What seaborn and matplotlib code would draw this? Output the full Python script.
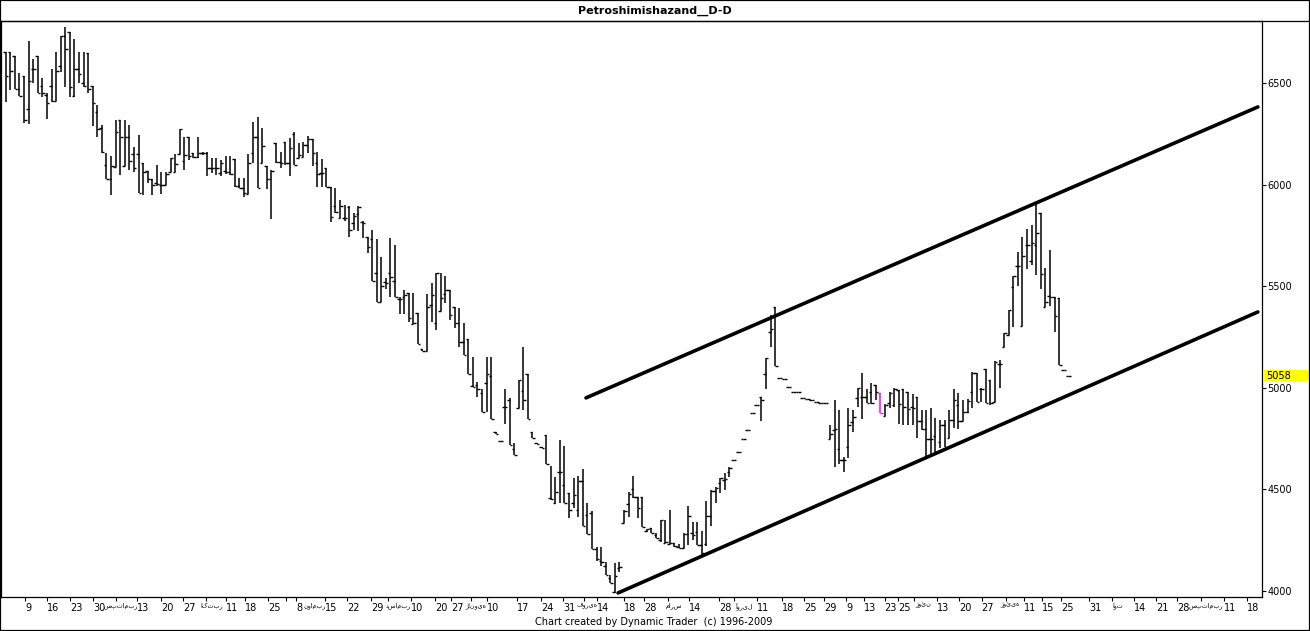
import numpy as np
import pandas as pd
import matplotlib
matplotlib.use("Agg")
import matplotlib.pyplot as plt
import matplotlib.transforms as mtransforms
from matplotlib.lines import Line2D
from matplotlib.patches import Rectangle
import seaborn as sns

# ---------------- data (daily OHLC) ----------------
opens = [
    6651, 6651, 6633, 6469, 6534, 6370, 6567, 6633, 6485, 6441,
    6485, 6411, 6584, 6731, 6749, 6436, 6567, 6502, 6646, 6485,
    6359, 6277, 6095, 6026, 6088, 6318, 6093, 6233, 6151, 6149,
    6105, 6067, 6028, 6006, 5998, 5998, 6061, 6064, 6150, 6116,
    6232, 6154, 6134, 6154, 6154, 6080, 6080, 6058, 6068, 6063,
    6124, 5993, 5981, 5954, 6154, 6236, 6104, 6091, 6026, 6203,
    6113, 6211, 6104, 6249, 6129, 6137, 6195, 6222, 6104, 6055,
    6080, 5986, 5894, 5834, 5834, 5891, 5812, 5853, 5817, 5744,
    5730, 5563, 5421, 5522, 5563, 5525, 5439, 5448, 5465, 5312,
    5366, 5191, 5183, 5407, 5317, 5379, 5461, 5481, 5399, 5320,
    5227, 5238, 5010, 5014, 4976, 5025, 5058, 4781, 4740, 4907,
    4940, 4697, 4899, 4986, 5068, 4781, 4730, 4710, 4768, 4455,
    4431, 4584, 4520, 4481, 4435, 4399, 4541, 4374, 4382, 4205,
    4149, 4123, 4062, 3995, 4112, 4336, 4428, 4504, 4464, 4464,
    4297, 4312, 4276, 4251, 4235, 4231, 4235, 4218, 4210, 4279,
    4287, 4292, 4226, 4231, 4369, 4490, 4530, 4546, 4587, 4645,
    4682, 4746, 4792, 4874, 4915, 4953, 5066, 5273, 5396, 5046,
    5041, 5002, 4981, 4977, 4948, 4945, 4940, 4932, 4927, 4923,
    4746, 4792, 4700, 4645, 4710, 4833, 4948, 4956, 4956, 4981,
    5014, 4976, 4861, 4923, 4915, 4989, 4994, 4978, 4907, 4956,
    4836, 4795, 4746, 4763, 4735, 4817, 4751, 4841, 4915, 4838,
    4882, 4981, 5074, 4992, 5091, 5038, 4932, 5115, 5202, 5260,
    5497, 5599, 5304, 5702, 5625, 5702, 5858, 5396, 5451, 5448,
    5440, 5087, 5058,
]
highs = [
    6651, 6651, 6633, 6548, 6534, 6707, 6616, 6633, 6523, 6449,
    6567, 6651, 6731, 6774, 6749, 6717, 6651, 6651, 6646, 6485,
    6392, 6293, 6154, 6141, 6318, 6318, 6318, 6293, 6187, 6244,
    6105, 6067, 6028, 6097, 6064, 6064, 6133, 6151, 6272, 6236,
    6232, 6154, 6232, 6162, 6162, 6129, 6129, 6121, 6140, 6140,
    6124, 6031, 6031, 6150, 6309, 6334, 6277, 6091, 6072, 6203,
    6162, 6211, 6227, 6260, 6203, 6211, 6239, 6222, 6162, 6124,
    6080, 5986, 5981, 5924, 5899, 5894, 5858, 5894, 5822, 5744,
    5776, 5730, 5642, 5539, 5735, 5703, 5445, 5481, 5465, 5465,
    5366, 5191, 5462, 5514, 5566, 5566, 5550, 5481, 5399, 5391,
    5317, 5238, 5153, 5030, 4992, 5153, 5153, 4781, 4740, 4992,
    4948, 4727, 5038, 5202, 5068, 4781, 4730, 4710, 4768, 4615,
    4563, 4743, 4713, 4481, 4554, 4566, 4599, 4435, 4394, 4218,
    4218, 4144, 4079, 4139, 4144, 4399, 4489, 4566, 4464, 4464,
    4303, 4312, 4284, 4349, 4349, 4399, 4235, 4231, 4284, 4420,
    4341, 4341, 4297, 4443, 4497, 4513, 4554, 4582, 4609, 4645,
    4682, 4746, 4792, 4874, 4915, 4953, 5145, 5358, 5399, 5046,
    5041, 5002, 4981, 4977, 4948, 4945, 4940, 4932, 4927, 4923,
    4817, 4940, 4891, 4661, 4899, 4891, 4997, 5071, 4992, 5022,
    5014, 4976, 4920, 4981, 4997, 4989, 4994, 4978, 4969, 4956,
    4891, 4891, 4899, 4850, 4841, 4841, 4891, 4992, 4976, 4940,
    4943, 5079, 5074, 4997, 5091, 5038, 5133, 5137, 5268, 5383,
    5550, 5670, 5743, 5779, 5801, 5916, 5858, 5588, 5678, 5448,
    5440, 5087, 5058,
]
lows = [
    6405, 6466, 6469, 6438, 6302, 6297, 6502, 6449, 6433, 6321,
    6408, 6411, 6553, 6482, 6433, 6433, 6502, 6482, 6452, 6288,
    6236, 6154, 6026, 5949, 6088, 6047, 6093, 6072, 6064, 5957,
    5949, 6006, 5949, 5993, 5954, 5998, 6061, 6064, 6150, 6072,
    6121, 6129, 6129, 6145, 6042, 6055, 6047, 6042, 6052, 6047,
    5986, 5981, 5940, 5954, 6104, 5981, 6104, 5976, 5829, 6104,
    6080, 6096, 6042, 6096, 6129, 6137, 6154, 6091, 5986, 5986,
    5986, 5817, 5858, 5834, 5822, 5740, 5776, 5773, 5735, 5665,
    5525, 5421, 5421, 5484, 5445, 5445, 5361, 5361, 5325, 5312,
    5214, 5183, 5183, 5322, 5284, 5379, 5416, 5334, 5293, 5202,
    5161, 5068, 5002, 4953, 4879, 4879, 4846, 4771, 4740, 4822,
    4719, 4669, 4899, 4888, 4846, 4755, 4725, 4705, 4623, 4448,
    4428, 4431, 4431, 4358, 4407, 4366, 4320, 4279, 4205, 4149,
    4123, 4079, 4038, 3989, 4095, 4336, 4366, 4456, 4358, 4313,
    4292, 4284, 4259, 4243, 4235, 4231, 4218, 4210, 4210, 4226,
    4251, 4226, 4177, 4221, 4317, 4431, 4480, 4497, 4563, 4645,
    4682, 4746, 4792, 4874, 4915, 4838, 4992, 5199, 5109, 5046,
    5041, 5002, 4981, 4977, 4948, 4945, 4940, 4932, 4927, 4923,
    4746, 4608, 4625, 4587, 4653, 4784, 4907, 4845, 4923, 4920,
    4940, 4877, 4861, 4899, 4907, 4820, 4817, 4817, 4817, 4751,
    4792, 4653, 4661, 4686, 4705, 4710, 4751, 4800, 4795, 4838,
    4877, 4899, 4932, 4932, 4923, 4915, 4932, 5000, 5202, 5260,
    5301, 5501, 5304, 5583, 5604, 5555, 5484, 5396, 5402, 5276,
    5112, 5087, 5058,
]
closes = [
    6536, 6559, 6469, 6438, 6318, 6510, 6567, 6449, 6452, 6403,
    6411, 6559, 6731, 6666, 6482, 6567, 6543, 6487, 6469, 6403,
    6272, 6162, 6026, 6092, 6257, 6233, 6233, 6116, 6080, 5960,
    6064, 6026, 5998, 6001, 5998, 6051, 6133, 6100, 6272, 6145,
    6140, 6134, 6154, 6157, 6080, 6080, 6080, 6104, 6063, 6052,
    5993, 5981, 5957, 6104, 6236, 5981, 6190, 6026, 6068, 6113,
    6104, 6108, 6178, 6096, 6145, 6195, 6222, 6157, 6052, 6055,
    5986, 5842, 5867, 5894, 5834, 5776, 5845, 5888, 5812, 5691,
    5525, 5421, 5501, 5514, 5547, 5445, 5435, 5457, 5342, 5317,
    5214, 5183, 5396, 5457, 5566, 5440, 5481, 5358, 5317, 5227,
    5161, 5068, 5002, 4992, 4879, 5068, 4846, 4771, 4740, 4907,
    4719, 4669, 5038, 4940, 4846, 4755, 4725, 4705, 4623, 4450,
    4489, 4584, 4431, 4399, 4472, 4541, 4320, 4279, 4205, 4157,
    4144, 4079, 4038, 4075, 4120, 4395, 4476, 4464, 4407, 4313,
    4303, 4287, 4259, 4349, 4243, 4235, 4223, 4210, 4279, 4371,
    4276, 4226, 4185, 4369, 4494, 4508, 4554, 4549, 4604, 4645,
    4682, 4746, 4792, 4874, 4915, 4940, 5145, 5287, 5109, 5046,
    5041, 5002, 4981, 4977, 4948, 4945, 4940, 4932, 4927, 4923,
    4773, 4795, 4645, 4645, 4817, 4858, 4997, 4956, 4923, 4923,
    4981, 4877, 4915, 4973, 4992, 4920, 4907, 4896, 4899, 4836,
    4795, 4746, 4746, 4686, 4817, 4710, 4841, 4940, 4838, 4879,
    4936, 5074, 4932, 4992, 4923, 4927, 5128, 5115, 5268, 5383,
    5550, 5599, 5648, 5702, 5711, 5760, 5558, 5420, 5448, 5353,
    5112, 5087, 5058,
]
highlight_bar = 191  # bar drawn in magenta

# x-axis day labels (bar index where each label starts)
day_pos = [4.2, 9.0, 14.0, 19.1, 28.7, 33.9, 38.7, 48.1,
           52.3, 57.3, 63.4, 69.7, 74.5, 79.8, 88.5, 93.7,
           97.2, 105.1, 111.6, 116.9, 121.7, 129.1, 135.0, 139.4,
           149.2, 155.7, 164.0, 169.5, 174.3, 178.7, 183.5, 187.4,
           191.9, 194.9, 203.3, 208.1, 213.1, 222.3, 226.3, 230.4,
           236.5, 246.4, 251.2, 255.8, 266.0, 271.0]
day_labels = ["9", "16", "23", "30", "13", "20", "27", "11",
              "18", "25", "8", "15", "22", "29", "10", "20",
              "27", "10", "17", "24", "31", "14", "18", "28",
              "14", "28", "11", "18", "25", "29", "9", "13",
              "23", "25", "13", "20", "27", "11", "15", "25",
              "31", "14", "21", "28", "11", "18"]
# month labels: tick position and the bar index of the label centre
month_pos = [24.1, 43.7, 61.2, 83.5, 101.6, 126.3, 144.6, 159.0, 198.3, 218.4, 241.5, 261.0]
month_center = [25.1, 45.0, 67.4, 85.7, 102.7, 126.9, 145.8, 161.3, 200.4, 219.2, 242.9, 262.0]
month_labels = ["سپتامبر", "اکتبر", "نوامبر", "دسامبر", "ژانویه", "فوریه",
                "مارس", "آوریل", "ژوئن", "ژوئیه", "اوت", "سپتامبر"]
y_ticks = [4000, 4500, 5000, 5500, 6000, 6500]

# trend channel (bar index, price)
upper_x = [126.7, 273.4]
upper_y = [4950, 6382]
lower_x = [133.7, 273.4]
lower_y = [3990, 5373]

last_price = 5058
title = "Petroshimishazand__D-D"
credit = "Chart created by Dynamic Trader  (c) 1996-2009"

assert len(opens) == len(highs) == len(lows) == len(closes)

# ---------------- drawing ----------------
sns.set_theme(style="white")
plt.rcParams['font.family'] = ['DejaVu Sans']

W, H = 1310, 631
fig = plt.figure(figsize=(W / 100, H / 100), dpi=100)
fig.patch.set_facecolor("white")

ax_left, ax_right, ax_top, ax_bottom = 1, 1262, 21, 597
ax = fig.add_axes([ax_left / W, 1 - ax_bottom / H,
                   (ax_right - ax_left) / W, (ax_bottom - ax_top) / H])
ax.set_facecolor("white")

df = pd.DataFrame({"open": opens, "high": highs, "low": lows, "close": closes})
df["idx"] = np.arange(len(df))
colors = ["#ff00ff" if i == highlight_bar else "black" for i in df["idx"]]

tw = 0.55
ax.vlines(df["idx"], df["low"], df["high"], colors=colors, lw=1.1)
ax.hlines(df["open"], df["idx"] - tw, df["idx"], colors=colors, lw=1.0)
ax.hlines(df["close"], df["idx"], df["idx"] + tw, colors=colors, lw=1.0)

chan = pd.concat([
    pd.DataFrame({"x": upper_x, "y": upper_y, "line": "upper"}),
    pd.DataFrame({"x": lower_x, "y": lower_y, "line": "lower"}),
])
sns.lineplot(data=chan, x="x", y="y", units="line", estimator=None,
             color="black", lw=2.6, ax=ax, legend=False)

ax.set_xlim((0 - 4.7) / 4.58, (1261 - 4.7) / 4.58)
ax.set_ylim(3970, 6805)

for s in ax.spines.values():
    s.set_color("black")
    s.set_linewidth(0.9)

ax.yaxis.tick_right()
ax.set_yticks(y_ticks)
ax.set_yticklabels([str(v) for v in y_ticks])
ax.tick_params(axis="y", direction="out", length=3, width=0.8, pad=1,
               labelsize=7, colors="black", right=True, left=False)

ax.set_xticks(day_pos)
ax.set_xticklabels(day_labels, ha="left")
ax.set_xticks(month_pos, minor=True)
ax.tick_params(axis="x", which="both", direction="out", length=3, width=0.8,
               pad=1, labelsize=7, colors="black", bottom=True)
xtrans = mtransforms.blended_transform_factory(ax.transData, ax.transAxes)
for xc, name in zip(month_center, month_labels):
    ax.text(xc, -5.5 / 576, name, transform=xtrans, ha="center", va="top",
            fontsize=4.6, color="black", clip_on=False)
ax.set_xlabel("")
ax.set_ylabel("")
ax.grid(False)

# last price marker on the price scale
trans = mtransforms.blended_transform_factory(ax.transAxes, ax.transData)
ax.add_patch(Rectangle((1.0008, last_price - 27), 0.0375, 54, transform=trans,
                       facecolor="yellow", edgecolor="none", clip_on=False, zorder=5))
ax.text(1.003, last_price, str(last_price), transform=trans, fontsize=7,
        va="center", ha="left", color="black", zorder=6, clip_on=False)

# title, divider, credit, frame
fig.text(655 / W, 1 - 10.5 / H, title, ha="center", va="center",
         fontsize=8, fontweight="bold", color="black")
fig.add_artist(Line2D([0, 1], [1 - ax_top / H] * 2, color="black", lw=0.9,
                      transform=fig.transFigure))
fig.text(654 / W, 1 - 622 / H, credit, ha="center", va="center",
         fontsize=7, color="black")
fig.add_artist(Rectangle((0, 0), 1, 1, transform=fig.transFigure, fill=False,
                         edgecolor="black", lw=1.6))

fig.savefig("out.png", dpi=100, facecolor="white")
